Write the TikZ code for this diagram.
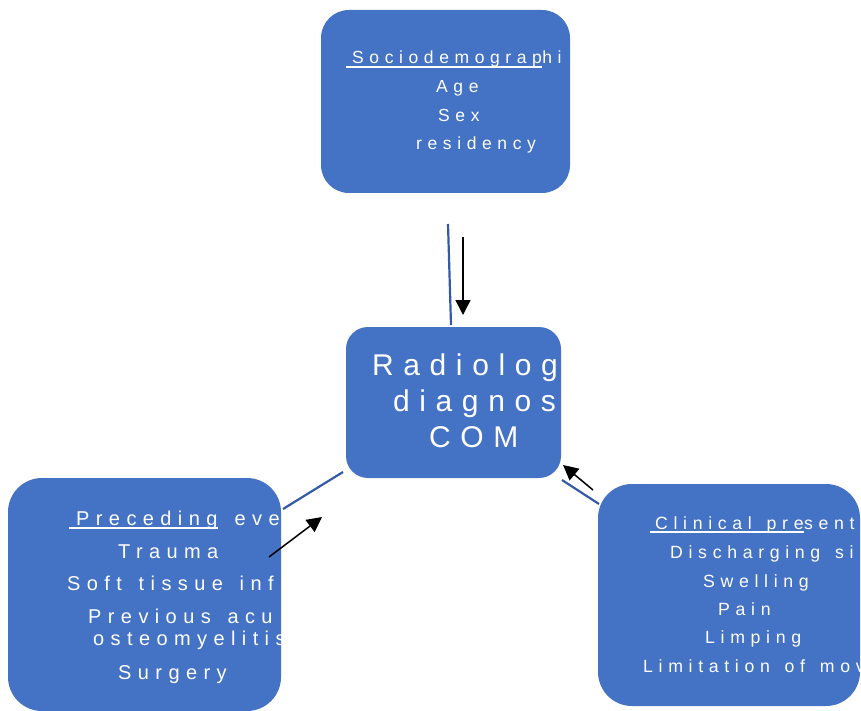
\documentclass[tikz,border=0pt]{standalone}
\usepackage{fontspec}
\setmainfont{Liberation Sans}
\newfontfamily\spaced{Liberation Sans}[LetterSpace=32, WordSpace=1.4]
\usetikzlibrary{arrows.meta}

\definecolor{boxblue}{RGB}{68,114,196}
\definecolor{linkblue}{RGB}{52,90,165}

\tikzset{
  box/.style={rectangle, fill=boxblue, draw=none, inner sep=0pt},
  txt/.style={text=white, inner sep=0pt, anchor=base west},
  link/.style={draw=linkblue, line width=2.2pt},
  arr/.style={-{Triangle[length=15pt,width=15pt]}, line width=1.5pt},
  uline/.style={draw=white, line width=1.8pt},
}

\begin{document}
\begin{tikzpicture}[x=1pt, y=-1pt]
  \useasboundingbox (0,0) rectangle (861,711);

  % Boxes
  \node[box, rounded corners=28pt, minimum width=249pt, minimum height=183pt] (socio) at (445.5,101.5) {};
  \node[box, rounded corners=22pt, minimum width=215pt, minimum height=151pt] (radio) at (453.5,402.5) {};
  \node[box, rounded corners=34pt, minimum width=273pt, minimum height=233pt] (prec) at (144.5,594.5) {};
  \node[box, rounded corners=34pt, minimum width=262pt, minimum height=222pt] (clin) at (729,595) {};

  % Sociodemographic
  \begin{scope}[font=\spaced\fontsize{17.5}{21}\selectfont]
    \clip[rounded corners=28pt] (socio.south west) rectangle (socio.north east);
    \node[txt] (socA) at (352,64) {Sociodemograp};
    \node[txt] (socB) at (socA.base east) {hi};
    \draw[uline] ([xshift=-6pt,yshift=-3pt]socA.base west) -- ([yshift=-3pt]socA.base east);
    \node[txt] (age) at (436,93) {Age};
    \node[txt] (sex) at (438,122) {Sex};
    \node[txt] (resid) at (416,150) {residency};
  \end{scope}

  % Radiological diagnosis
  \begin{scope}[font=\spaced\fontsize{30}{36}\selectfont]
    \clip[rounded corners=22pt] (radio.south west) rectangle (radio.north east);
    \node[txt] (rad1) at (372,375) {Radiolog};
    \node[txt] (rad2) at (393,411) {diagnos};
    \node[txt] (rad3) at (429,447) {COM};
  \end{scope}

  % Preceding events
  \begin{scope}[font=\spaced\fontsize{20}{24}\selectfont]
    \clip[rounded corners=34pt] (prec.south west) rectangle (prec.north east);
    \node[txt] (preA) at (76,525) {Preceding};
    \node[txt] (preB) at (preA.base east) {\ eve};
    \draw[uline] ([xshift=-7pt,yshift=-3pt]preA.base west) -- ([yshift=-3pt]preA.base east);
    \node[txt] (trauma) at (118,558) {Trauma};
    \node[txt] (soft) at (67,590) {Soft tissue inf};
    \node[txt] (prev1) at (88,623) {Previous acu};
    \node[txt] (prev2) at (93,645) {osteomyelitis};
    \node[txt] (surg) at (118,679) {Surgery};
  \end{scope}

  % Clinical presentation
  \begin{scope}[font=\spaced\fontsize{17.7}{22}\selectfont]
    \clip[rounded corners=34pt] (clin.south west) rectangle (clin.north east);
    \node[txt] (cliA) at (655,529) {Clinical pre};
    \node[txt] (cliB) at (cliA.base east) {sent};
    \draw[uline] ([xshift=-5pt,yshift=-3pt]cliA.base west) -- ([yshift=-3pt]cliA.base east);
    \node[txt] (disch) at (670,558) {Discharging si};
    \node[txt] (swell) at (703,587) {Swelling};
    \node[txt] (pain) at (718,615) {Pain};
    \node[txt] (limp) at (705,643) {Limping};
    \node[txt] (limit) at (643,672) {Limitation of mov};
  \end{scope}

  % Connectors
  \coordinate (t1) at (448,224);
  \coordinate (t2) at (451,325);
  \coordinate (t3) at (463,237);
  \coordinate (t4) at (463,315);
  \draw[link] (t1) -- (t2);
  \draw[arr] (t3) -- (t4);

  \coordinate (l1) at (283,509);
  \coordinate (l2) at (343,472);
  \coordinate (l3) at (269,557);
  \coordinate (l4) at (322,517);
  \draw[link] (l1) -- (l2);
  \draw[arr] (l3) -- (l4);

  \coordinate (r1) at (599,504);
  \coordinate (r2) at (562,480);
  \coordinate (r3) at (593,490);
  \coordinate (r4) at (563,465);
  \draw[link] (r1) -- (r2);
  \draw[arr] (r3) -- (r4);
\end{tikzpicture}
\end{document}
